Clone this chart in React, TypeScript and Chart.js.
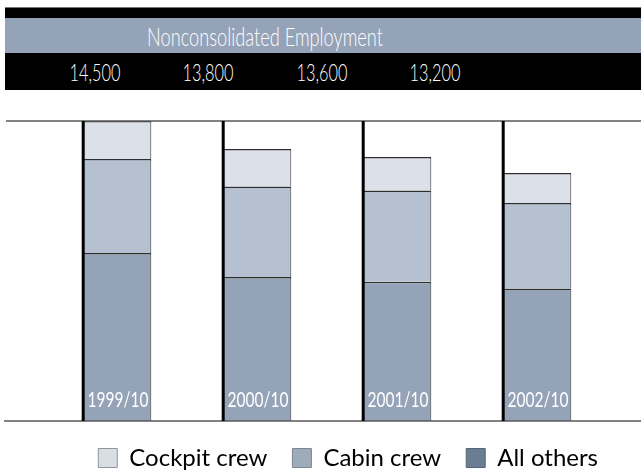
import React, { useEffect, useRef } from 'react';
import { Chart, registerables } from 'chart.js';

Chart.register(...registerables);

const title = 'Nonconsolidated Employment';
const categories = ['1999/10', '2000/10', '2001/10', '2002/10'];
const totalLabels = ['14,500', '13,800', '13,600', '13,200'];
const allOthers = [11200, 10600, 10480, 10310];
const cabinCrew = [2350, 2260, 2280, 2140];
const cockpitCrew = [950, 940, 840, 750];
const legendNames = ['Cockpit crew', 'Cabin crew', 'All others'];
const yMin = 7000;
const yMax = 14500;

const barColors = { others: '#95a3b8', cabin: '#b5c1d1', cockpit: '#dce1e9' };
const legendFill = ['#d9dee5', '#9eabb8', '#6b7d92'];
const legendStroke = ['#8e96a0', '#7c8793', '#56667a'];
const totalCenters = [95, 208, 322, 435];
const titleCenter = 265;

const decor = {
  id: 'decor',
  afterDatasetsDraw(chart: any) {
    const { ctx, chartArea } = chart;
    ctx.save();
    ctx.strokeStyle = '#5a5a5a';
    ctx.lineWidth = 1.5;
    ctx.beginPath();
    ctx.moveTo(6, chartArea.top);
    ctx.lineTo(chart.width, chartArea.top);
    ctx.moveTo(4, chartArea.bottom);
    ctx.lineTo(chart.width, chartArea.bottom);
    ctx.stroke();
    const meta = chart.getDatasetMeta(0);
    meta.data.forEach((bar: any, i: number) => {
      const { x, width } = bar.getProps(['x', 'width'], true);
      const left = x - width / 2;
      ctx.fillStyle = '#000';
      ctx.fillRect(left - 1, chartArea.top, 3, chartArea.bottom - chartArea.top);
      ctx.save();
      ctx.translate(x + 1, chartArea.bottom - 14);
      ctx.scale(0.74, 1);
      ctx.fillStyle = '#ffffff';
      ctx.font = '400 21px Lato';
      ctx.textAlign = 'center';
      ctx.textBaseline = 'alphabetic';
      ctx.fillText(categories[i], 0, 0);
      ctx.restore();
    });
    ctx.restore();
  },
};

export default function App() {
  const ref = useRef<HTMLCanvasElement | null>(null);
  useEffect(() => {
    if (!ref.current) return;
    const common = {
      borderColor: '#2e2e2e',
      borderWidth: { top: 1.5, right: 1, bottom: 0, left: 0 },
      borderSkipped: false as any,
      clip: { left: 5, right: 5, top: 5, bottom: 0 },
    };
    const chart = new Chart(ref.current, {
      type: 'bar',
      data: {
        labels: categories,
        datasets: [
          { label: 'All others', data: allOthers, backgroundColor: barColors.others, ...common },
          { label: 'Cabin crew', data: cabinCrew, backgroundColor: barColors.cabin, ...common },
          { label: 'Cockpit crew', data: cockpitCrew, backgroundColor: barColors.cockpit, ...common },
        ],
      },
      options: {
        animation: false,
        responsive: false,
        maintainAspectRatio: false,
        layout: { padding: { top: 121, left: 47, right: 18, bottom: 0 } },
        datasets: { bar: { categoryPercentage: 1, barPercentage: 0.49 } },
        scales: {
          x: { stacked: true, display: false },
          y: {
            stacked: true,
            display: true,
            position: 'right',
            min: yMin,
            max: yMax,
            grid: { display: false },
            border: { display: false },
            ticks: { display: false },
            afterFit: (s: any) => {
              s.width = 16;
            },
          },
        },
        plugins: {
          tooltip: { enabled: false },
          legend: {
            position: 'bottom',
            align: 'end',
            labels: {
              boxWidth: 19,
              boxHeight: 19,
              padding: 25,
              color: '#000',
              font: { family: 'Lato', size: 24 },
              generateLabels: () =>
                legendNames.map((t, i) => ({
                  text: t,
                  fillStyle: legendFill[i],
                  strokeStyle: legendStroke[i],
                  lineWidth: 1,
                  hidden: false,
                  datasetIndex: 2 - i,
                })),
            },
          },
        },
      } as any,
      plugins: [decor],
    });
    return () => chart.destroy();
  }, []);

  const band = (top: number, height: number, bg: string): React.CSSProperties => ({
    position: 'absolute',
    left: 5,
    top,
    width: 636,
    height,
    background: bg,
  });
  const textStyle = (cx: number, size: number, sx: number): React.CSSProperties => ({
    position: 'absolute',
    left: cx,
    top: 0,
    height: '100%',
    display: 'flex',
    alignItems: 'center',
    whiteSpace: 'nowrap',
    color: '#fff',
    fontFamily: 'Lato',
    fontWeight: 300,
    fontSize: size,
    transform: `translateX(-50%) scaleX(${sx})`,
  });

  return (
    <div style={{ position: 'absolute', left: 0, top: 0, width: 641, height: 474, overflow: 'hidden', background: '#fff' }}>
      <canvas ref={ref} width={641} height={480} style={{ position: 'absolute', left: 0, top: 0, width: 641, height: 480 }} />
      <div style={{ ...band(7, 11, '#000'), borderTop: '1px solid #777', boxSizing: 'border-box' }} />
      <div style={band(18, 35, '#95a3b8')}>
        <span style={textStyle(titleCenter - 5, 26, 0.7)}>{title}</span>
      </div>
      <div style={band(53, 37, '#000')}>
        {totalLabels.map((t, i) => (
          <span key={t} style={textStyle(totalCenters[i] - 5, 24, 0.68)}>
            {t}
          </span>
        ))}
      </div>
    </div>
  );
}
